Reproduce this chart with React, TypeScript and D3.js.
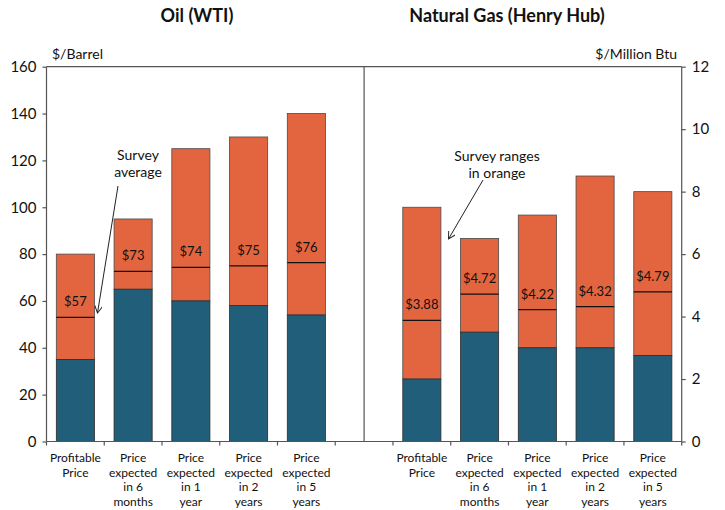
import { useEffect, useRef } from 'react';
import * as d3 from 'd3';

const categories = ['Profitable Price', 'Price expected in 6 months', 'Price expected in 1 year', 'Price expected in 2 years', 'Price expected in 5 years'];
const catLines = [
  ['Profitable', 'Price'],
  ['Price', 'expected', 'in 6', 'months'],
  ['Price', 'expected', 'in 1', 'year'],
  ['Price', 'expected', 'in 2', 'years'],
  ['Price', 'expected', 'in 5', 'years'],
];

// oil, $/barrel
const oilLow = [35, 65, 60, 58, 54];
const oilHigh = [80, 95, 125, 130, 140];
const oilAvgLine = [53, 72.6, 74.3, 75, 76.4];
const oilAvgLabel = ['$57', '$73', '$74', '$75', '$76'];

// natural gas, $/million Btu
const gasLow = [2, 3.5, 3, 3, 2.75];
const gasHigh = [7.5, 6.5, 7.25, 8.5, 8];
const gasAvg = [3.88, 4.72, 4.22, 4.32, 4.79];

const oilTicks = [0, 20, 40, 60, 80, 100, 120, 140, 160];
const gasTicks = [0, 2, 4, 6, 8, 10, 12];

const ORANGE = '#E3653F';
const TEAL = '#215E79';
const FONT = 'Lato, "Liberation Sans", sans-serif';

export default function App() {
  const ref = useRef<SVGSVGElement>(null);

  useEffect(() => {
    if (!ref.current) return;
    const svg = d3.select(ref.current);
    svg.selectAll('*').remove();

    const left = 46.5;
    const right = 681.7;
    const top = 66.7;
    const bottom = 441.5;

    const keys = [...categories.map((_, i) => 'oil' + i), 'gap', ...categories.map((_, i) => 'gas' + i)];
    const x = d3.scaleBand<string>().domain(keys).range([left, right]).padding(0);
    const yOil = d3.scaleLinear().domain([0, 160]).range([bottom, top]);
    const yGas = d3.scaleLinear().domain([0, 12]).range([bottom, top]);
    const bw = x.bandwidth() * 0.66;
    const divX = (x('gap') as number) + x.bandwidth() / 2;

    const defs = svg.append('defs');
    defs
      .append('marker')
      .attr('id', 'arr')
      .attr('viewBox', '0 0 10 10')
      .attr('refX', 9)
      .attr('refY', 5)
      .attr('markerWidth', 8)
      .attr('markerHeight', 8)
      .attr('orient', 'auto')
      .attr('markerUnits', 'userSpaceOnUse')
      .append('path')
      .attr('d', 'M0,0 L9,5 L0,10')
      .attr('fill', 'none')
      .attr('stroke', '#222')
      .attr('stroke-width', 1.2);

    // bars
    const drawBars = (
      prefix: string,
      y: d3.ScaleLinear<number, number>,
      low: number[],
      high: number[],
      avg: number[],
      labels: string[]
    ) => {
      const g = svg.append('g');
      low.forEach((lo, i) => {
        const bx = (x(prefix + i) as number) + (x.bandwidth() - bw) / 2;
        g.append('rect')
          .attr('x', bx)
          .attr('y', y(high[i]))
          .attr('width', bw)
          .attr('height', y(lo) - y(high[i]))
          .attr('fill', ORANGE)
          .attr('stroke', '#4a4a4a')
          .attr('stroke-width', 0.8);
        g.append('rect')
          .attr('x', bx)
          .attr('y', y(lo))
          .attr('width', bw)
          .attr('height', y(0) - y(lo))
          .attr('fill', TEAL)
          .attr('stroke', '#2b2b2b')
          .attr('stroke-width', 0.8);
        g.append('line')
          .attr('x1', bx)
          .attr('x2', bx + bw)
          .attr('y1', y(avg[i]))
          .attr('y2', y(avg[i]))
          .attr('stroke', '#111')
          .attr('stroke-width', 1.2);
        g.append('text')
          .attr('x', bx + bw / 2)
          .attr('y', y(avg[i]) - 11)
          .attr('text-anchor', 'middle')
          .attr('font-family', FONT)
          .attr('font-size', 13)
          .attr('fill', '#111')
          .text(labels[i]);
      });
    };
    drawBars('oil', yOil, oilLow, oilHigh, oilAvgLine, oilAvgLabel);
    drawBars('gas', yGas, gasLow, gasHigh, gasAvg, gasAvg.map((v) => '$' + v.toFixed(2)));

    // frame
    const frame = svg.append('g').attr('stroke', '#555').attr('stroke-width', 1.2).attr('fill', 'none');
    frame.append('line').attr('x1', left).attr('x2', right).attr('y1', top).attr('y2', top);
    frame.append('line').attr('x1', left).attr('x2', right).attr('y1', bottom).attr('y2', bottom);
    frame.append('line').attr('x1', left).attr('x2', left).attr('y1', top).attr('y2', bottom);
    frame.append('line').attr('x1', right).attr('x2', right).attr('y1', top).attr('y2', bottom);
    frame.append('line').attr('x1', divX).attr('x2', divX).attr('y1', top).attr('y2', bottom);

    // x ticks at band edges
    const edges = keys.map((k) => x(k) as number).concat([right]);
    svg
      .append('g')
      .selectAll('line')
      .data(edges)
      .enter()
      .append('line')
      .attr('x1', (d) => d)
      .attr('x2', (d) => d)
      .attr('y1', bottom)
      .attr('y2', bottom + 4)
      .attr('stroke', '#555')
      .attr('stroke-width', 1.2);

    // category labels
    const drawCats = (prefix: string) => {
      catLines.forEach((lines, i) => {
        const cx = (x(prefix + i) as number) + x.bandwidth() / 2;
        const t = svg
          .append('text')
          .attr('text-anchor', 'middle')
          .attr('font-family', FONT)
          .attr('font-size', 12)
          .attr('fill', '#111');
        lines.forEach((ln, j) => {
          t.append('tspan').attr('x', cx).attr('y', 462 + j * 14.5).text(ln);
        });
      });
    };
    drawCats('oil');
    drawCats('gas');

    // y axes
    const leftAxis = d3.axisLeft(yOil).tickValues(oilTicks).tickSize(4).tickPadding(6);
    const la = svg.append('g').attr('transform', `translate(${left},0)`).call(leftAxis);
    const rightAxis = d3.axisRight(yGas).tickValues(gasTicks).tickSize(4).tickPadding(6);
    const ra = svg.append('g').attr('transform', `translate(${right},0)`).call(rightAxis);
    [la, ra].forEach((a) => {
      a.select('.domain').remove();
      a.selectAll('line').attr('stroke', '#555').attr('stroke-width', 1.2);
      a.selectAll('text').attr('font-family', FONT).attr('font-size', 15).attr('fill', '#111');
    });

    // units
    svg.append('text').attr('x', 52).attr('y', 59).attr('font-family', FONT).attr('font-size', 14).attr('fill', '#111').text('$/Barrel');
    svg
      .append('text')
      .attr('x', 677)
      .attr('y', 59)
      .attr('text-anchor', 'end')
      .attr('font-family', FONT)
      .attr('font-size', 14)
      .attr('fill', '#111')
      .text('$/Million Btu');

    // titles
    svg
      .append('text')
      .attr('x', 197)
      .attr('y', 22)
      .attr('text-anchor', 'middle')
      .attr('font-family', FONT)
      .attr('font-weight', 'bold')
      .attr('font-size', 18)
      .attr('fill', '#111')
      .text('Oil (WTI)');
    svg
      .append('text')
      .attr('x', 507)
      .attr('y', 22)
      .attr('text-anchor', 'middle')
      .attr('font-family', FONT)
      .attr('font-weight', 'bold')
      .attr('font-size', 18)
      .attr('fill', '#111')
      .text('Natural Gas (Henry Hub)');

    // annotations
    const note = (cx: number, y0: number, lines: string[]) => {
      const t = svg.append('text').attr('text-anchor', 'middle').attr('font-family', FONT).attr('font-size', 14).attr('fill', '#111');
      lines.forEach((ln, j) => t.append('tspan').attr('x', cx).attr('y', y0 + j * 17).text(ln));
    };
    note(138, 160, ['Survey', 'average']);
    note(497, 161, ['Survey ranges', 'in orange']);

    svg.append('line').attr('x1', 118).attr('y1', 186).attr('x2', 97.5).attr('y2', 313).attr('stroke', '#222').attr('stroke-width', 1).attr('marker-end', 'url(#arr)');
    svg.append('line').attr('x1', 483).attr('y1', 180).attr('x2', 448.5).attr('y2', 239).attr('stroke', '#222').attr('stroke-width', 1).attr('marker-end', 'url(#arr)');
  }, []);

  return (
    <svg
      ref={ref}
      width={725}
      height={510}
      style={{ position: 'absolute', left: 0, top: 0, background: '#fff' }}
      role="img"
      aria-label="Oil and natural gas price survey ranges"
    />
  );
}
